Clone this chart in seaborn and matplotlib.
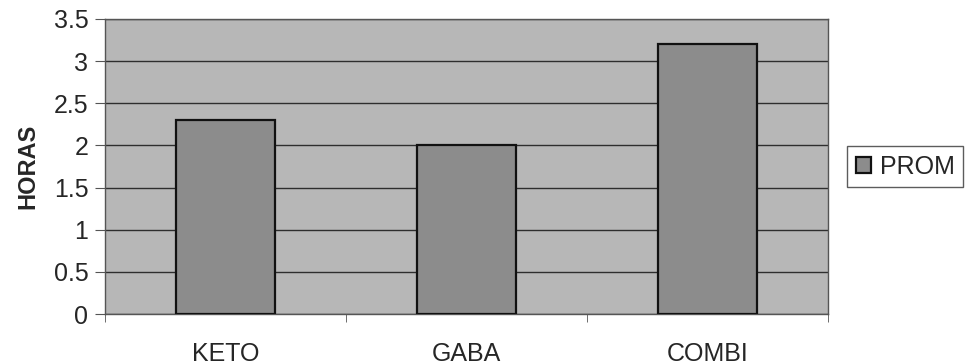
import numpy as np
import pandas as pd
import seaborn as sns
import matplotlib.pyplot as plt

# datos
grupos = ["KETO", "GABA", "COMBI"]
prom = [2.3, 2.0, 3.2]
serie = "PROM"

df = pd.DataFrame({"grupo": grupos, "horas": prom, "serie": [serie] * len(grupos)})

sns.set_style("white")
plt.rcParams['font.family'] = ['Liberation Sans', 'DejaVu Sans']

fig = plt.figure(figsize=(9.67, 3.64), dpi=100)
ax = fig.add_axes([0.1086, 0.137, 0.7475, 0.811])
ax.set_facecolor("#b7b7b7")

sns.barplot(data=df, x="grupo", y="horas", hue="serie", palette=["#8c8c8c"],
            width=0.41, edgecolor="#111111", linewidth=1.6, ax=ax, zorder=3)

ax.set_ylim(0, 3.5)
ax.set_xlim(-0.5, 2.5)
ax.set_yticks(np.arange(0, 3.51, 0.5))
ax.set_yticklabels(["0", "0.5", "1", "1.5", "2", "2.5", "3", "3.5"])
ax.yaxis.grid(True, color="#2e2e2e", linewidth=1.0, zorder=1)
ax.set_axisbelow(True)
for s in ax.spines.values():
    s.set_color("#555555")
    s.set_linewidth(1.0)

ax.tick_params(axis="y", length=7, color="#555555", labelsize=18, pad=5, left=True)
ax.tick_params(axis="x", length=0, labelsize=18, pad=20)
ax.set_xticks([-0.5, 0.5, 1.5, 2.5], minor=True)
ax.tick_params(axis="x", which="minor", length=6, color="#555555", bottom=True)
ax.set_xlabel("")
ax.set_ylabel("HORAS", fontsize=17, fontweight="bold", labelpad=10)

leg = ax.legend(loc="center left", bbox_to_anchor=(1.027, 0.5), fontsize=18,
                frameon=True, fancybox=False, edgecolor="#333333",
                handlelength=0.6, handleheight=0.6, handletextpad=0.35,
                borderpad=0.35, borderaxespad=0)
leg.get_frame().set_linewidth(1.0)

fig.savefig("out.png", dpi=100, facecolor="white")
